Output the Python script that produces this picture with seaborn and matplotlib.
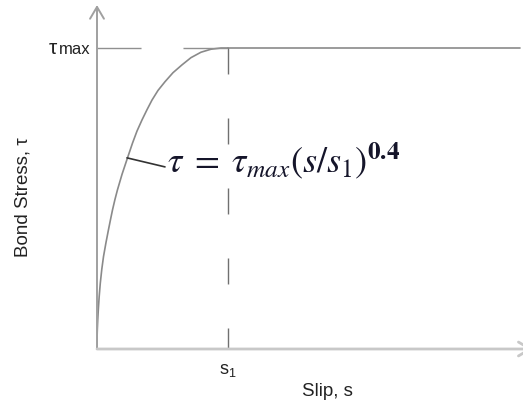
import matplotlib
matplotlib.use("Agg")
import matplotlib.pyplot as plt
import seaborn as sns
import pandas as pd

# Bond stress-slip law: ascending branch up to s1, then a constant plateau at tau_max
s1 = 1.0
tau_max = 1.0
s_end = 3.229

# Ascending branch (normalised slip s/s1, normalised stress tau/tau_max)
slip = [0.0, 0.0, 0.0023, 0.0061, 0.0099, 0.0168, 0.0252, 0.0366, 0.0496,
        0.0679, 0.0870, 0.1031, 0.1183, 0.1366, 0.1557, 0.1908, 0.2275,
        0.2710, 0.3053, 0.3435, 0.3817, 0.4198, 0.4656, 0.5191, 0.5802,
        0.6489, 0.7176, 0.7939, 0.8702, 0.9466, 1.0]
stress = [0.0, 0.03, 0.063, 0.10, 0.13, 0.175, 0.219, 0.265, 0.307, 0.352,
          0.395, 0.430, 0.462, 0.496, 0.528, 0.580, 0.628, 0.684, 0.724,
          0.761, 0.795, 0.827, 0.859, 0.888, 0.918, 0.944, 0.968, 0.986,
          0.996, 1.0, 1.0]

plateau_slip = [s1, s_end]
plateau_stress = [tau_max, tau_max]

equation = r"$\tau\;=\;\tau_{max}(s/s_1)^{\mathbf{0.4}}$"

sns.set_style("white")
plt.rcParams["font.family"] = ["Liberation Sans", "DejaVu Sans"]
plt.rcParams["mathtext.rm"] = "Liberation Sans"
plt.rcParams["mathtext.it"] = "Liberation Sans:italic"

fig = plt.figure(figsize=(5.23, 4.07), dpi=100)
ax = fig.add_axes([97 / 523, 58 / 407, 426 / 523, 349 / 407])
xmax = 426 / 131
ymax = 349 / 301
ax.set_xlim(0, xmax)
ax.set_ylim(0, ymax)
for sp in ax.spines.values():
    sp.set_visible(False)
ax.set_xticks([])
ax.set_yticks([])

curve = pd.DataFrame({"slip": slip, "stress": stress})
plateau = pd.DataFrame({"slip": plateau_slip, "stress": plateau_stress})
sns.lineplot(data=curve, x="slip", y="stress", ax=ax, color="#8a8a8a",
             lw=1.2, sort=False, estimator=None)
sns.lineplot(data=plateau, x="slip", y="stress", ax=ax, color="#8a8a8a",
             lw=1.2, sort=False, estimator=None)

# Reference lines at tau_max and s1
ax.plot([0, s1], [tau_max, tau_max], color="#909090", lw=1.0,
        dashes=(31.7, 30.2))
ax.plot([s1, s1], [tau_max, 0], color="#707070", lw=1.0,
        dashes=(18.7, 31.7))

# Axes with arrow heads
ax.annotate("", xy=(0, 344 / 301), xytext=(0, 0),
            arrowprops=dict(arrowstyle="->,head_length=0.85,head_width=0.5",
                            color="#a0a0a0", lw=1.4, shrinkA=0, shrinkB=0),
            annotation_clip=False)
ax.annotate("", xy=(436 / 131, 0), xytext=(0, 0),
            arrowprops=dict(arrowstyle="->,head_length=0.85,head_width=0.5",
                            color="#c8c8c8", lw=2.0, shrinkA=0, shrinkB=0),
            annotation_clip=False)

# Leader from the curve to the equation
ax.plot([0.229, 0.519], [0.635, 0.605], color="#333333", lw=1.2)
ax.text(0.534, 0.585, equation, fontsize=26, color="#15152a",
        math_fontfamily="stix", ha="left", va="baseline")

# tau_max level label
ax.text(-0.305, tau_max, "τ", fontsize=15, color="#222222",
        ha="right", va="center", clip_on=False)
ax.text(-0.053, tau_max - 0.005, "max", fontsize=12, color="#222222",
        ha="right", va="center", clip_on=False)
ax.text(s1, -0.043, r"$\mathrm{s}_\mathrm{1}$", fontsize=13, color="#222222",
        math_fontfamily="custom", ha="center", va="top", clip_on=False)

ax.text(1.756, -0.14, "Slip, s", fontsize=13.5, color="#222222",
        ha="center", va="center", clip_on=False)
ax.text(-0.565, 0.505, "Bond Stress, τ", fontsize=13.5, color="#222222",
        rotation=90, ha="center", va="center", clip_on=False)

fig.savefig("out.png", dpi=100)
